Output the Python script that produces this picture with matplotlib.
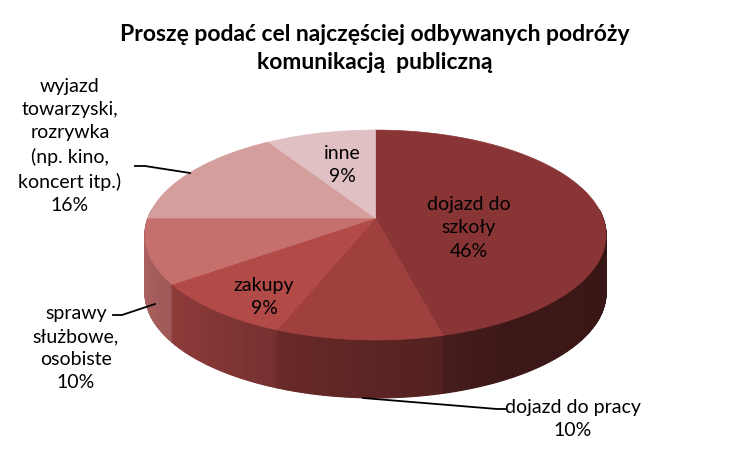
import numpy as np
import matplotlib.pyplot as plt
from matplotlib.patches import Polygon

# data
categories = ['dojazd do\nszkoły', 'dojazd do pracy', 'zakupy',
              'sprawy\nsłużbowe,\nosobiste',
              'wyjazd\ntowarzyski,\nrozrywka\n(np. kino,\nkoncert itp.)', 'inne']
values = [46, 10, 9, 10, 16, 9]
top_colors = ['#8A3535', '#A0403E', '#B24A48', '#C6706E', '#D49E9C', '#E0C0C2']
title = 'Proszę podać cel najczęściej odbywanych podróży\nkomunikacją  publiczną'

# layout (pixel space)
CX, CY = 375.5, 218.0
RX, RY = 227.5, 102.2
PERSP = 0.162
DEPTH = 58.0

label_pos = [(469, 228), (573, 419), (264, 297), (76, 348), (70, 146), (342, 165)]
leaders = {
    1: [(363, 398), (497, 409), (505, 409)],
    3: [(113, 315), (122, 315), (155, 304)],
    4: [(135, 166), (145, 166), (190, 173)],
}

plt.rcParams['font.family'] = ['Lato', 'DejaVu Sans']


def rim(theta_deg):
    t = np.radians(theta_deg)
    u, v = np.sin(t), np.cos(t)
    d = 1 + PERSP * v
    return CX + RX * u / d, CY - RY * v / d


def side_factor(theta):
    return np.interp(theta, [0, 90, 150, 170, 200, 220, 250, 270, 360],
                     [0.40, 0.40, 0.44, 0.53, 0.65, 0.75, 0.85, 0.88, 0.88])


def shade(hex_color, f):
    rgb = np.array([int(hex_color[i:i + 2], 16) for i in (1, 3, 5)]) / 255.0
    return tuple(np.clip(rgb * f, 0, 1))


fig = plt.figure(figsize=(7.5, 4.49), dpi=100)
ax = fig.add_axes([0, 0, 1, 1])
ax.set_xlim(0, 750)
ax.set_ylim(449, 0)
ax.axis('off')

total = float(sum(values))
bounds = np.concatenate([[0], np.cumsum(values) / total * 360.0])

# side walls (only the front half is visible)
segs = []
for i in range(len(values)):
    a0, a1 = bounds[i], bounds[i + 1]
    n = max(2, int((a1 - a0) / 0.8))
    ts = np.linspace(a0, a1, n + 1)
    for t0, t1 in zip(ts[:-1], ts[1:]):
        tm = 0.5 * (t0 + t1)
        if 85 <= tm <= 275:
            segs.append((np.cos(np.radians(tm)), i, t0, t1, tm))
segs.sort(key=lambda s: -s[0])
for _, i, t0, t1, tm in segs:
    x0, y0 = rim(t0)
    x1, y1 = rim(t1)
    col = shade(top_colors[i], side_factor(tm))
    ax.add_patch(Polygon([(x0, y0), (x1, y1), (x1, y1 + DEPTH), (x0, y0 + DEPTH)],
                         closed=True, facecolor=col, edgecolor=col, lw=0.8))

# top faces
for i in range(len(values)):
    ts = np.linspace(bounds[i], bounds[i + 1], 80)
    pts = [(CX, CY)] + [rim(t) for t in ts]
    ax.add_patch(Polygon(pts, closed=True, facecolor=top_colors[i],
                         edgecolor=top_colors[i], lw=0.5))

# labels
for i, (name, val) in enumerate(zip(categories, values)):
    pct = '%d%%' % round(val / total * 100)
    x, y = label_pos[i]
    ax.text(x, y, name + '\n' + pct, ha='center', va='center',
            fontsize=14, linespacing=1.43, color='black')

for pts in leaders.values():
    xs, ys = zip(*pts)
    ax.plot(xs, ys, color='black', lw=1.3)

ax.text(375, 48.5, title, ha='center', va='center', fontsize=16.5,
        fontweight='bold', linespacing=1.38)

fig.savefig('out.png', dpi=100)
